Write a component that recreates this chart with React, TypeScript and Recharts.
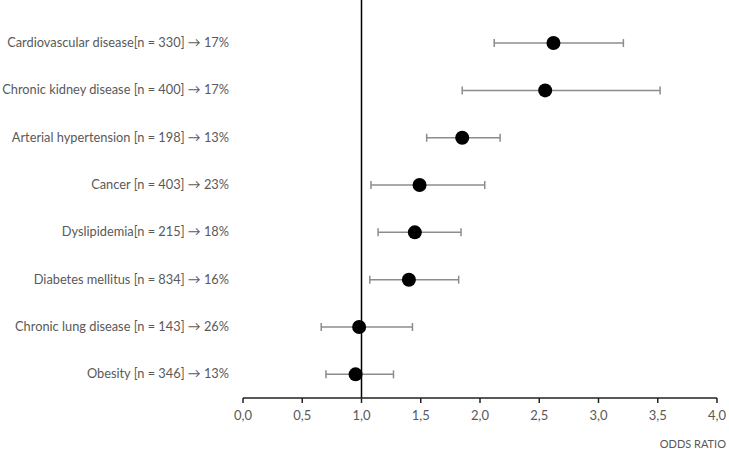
import {
  ScatterChart,
  Scatter,
  XAxis,
  YAxis,
  ErrorBar,
  ReferenceLine,
} from "recharts";

const labels = [
  "Cardiovascular disease[n = 330] → 17%",
  "Chronic kidney disease [n = 400] → 17%",
  "Arterial hypertension [n = 198] → 13%",
  "Cancer [n = 403] → 23%",
  "Dyslipidemia[n = 215] → 18%",
  "Diabetes mellitus [n = 834] → 16%",
  "Chronic lung disease [n = 143] → 26%",
  "Obesity [n = 346] → 13%",
];
const oddsRatio = [2.62, 2.55, 1.85, 1.49, 1.45, 1.4, 0.98, 0.95];
const ciLow = [2.12, 1.85, 1.55, 1.08, 1.14, 1.07, 0.66, 0.7];
const ciHigh = [3.21, 3.52, 2.17, 2.04, 1.84, 1.82, 1.43, 1.27];
const xTicks = [0, 0.5, 1, 1.5, 2, 2.5, 3, 3.5, 4];

// row 1 at the bottom, first label on top
const rows = labels.map((label, i) => ({
  label,
  row: labels.length - i,
  or: oddsRatio[i],
  err: [oddsRatio[i] - ciLow[i], ciHigh[i] - oddsRatio[i]],
}));
const rowTicks = rows.map((r) => r.row).sort((a, b) => a - b);

const font = "Lato, sans-serif";
const grey = "#595959";

const Dot = (props: any) => <circle cx={props.cx} cy={props.cy} r={7} fill="#000" />;

// single-line label, right aligned (default tick wraps long text)
const RowTick = ({ x, y, payload }: any) => (
  <text x={x} y={y} dy={4} textAnchor="end" fill={grey} fontSize={12.8} fontFamily={font}>
    {labels[labels.length - Number(payload.value)]}
  </text>
);

export default function App() {
  return (
    <div style={{ position: "absolute", left: 0, top: 0, background: "#fff" }}>
      <ScatterChart width={729} height={449} margin={{ top: 0, right: 12, bottom: 0, left: 0 }}>
        <XAxis
          type="number"
          dataKey="or"
          domain={[0, 4]}
          ticks={xTicks}
          interval={0}
          tickFormatter={(v) => Number(v).toFixed(1).replace(".", ",")}
          stroke="#222"
          strokeWidth={1.5}
          tickSize={5}
          tickMargin={8}
          tick={{ fill: grey, fontSize: 13, fontFamily: font }}
          height={51}
          label={{
            value: "ODDS RATIO",
            position: "insideBottomRight",
            offset: 0,
            dx: 9,
            dy: -1,
            fill: grey,
            fontSize: 11,
            fontFamily: font,
          }}
        />
        <YAxis
          type="number"
          dataKey="row"
          domain={[0.5, 8.91]}
          ticks={rowTicks}
          interval={0}
          width={243}
          axisLine={false}
          tickLine={false}
          tickMargin={8}
          tick={<RowTick />}
        />
        <ReferenceLine x={1} stroke="#000" strokeWidth={1.5} />
        <Scatter data={rows} shape={Dot} isAnimationActive={false}>
          <ErrorBar dataKey="err" direction="x" width={4} stroke="#8c8c8c" strokeWidth={1.5} />
        </Scatter>
      </ScatterChart>
    </div>
  );
}
